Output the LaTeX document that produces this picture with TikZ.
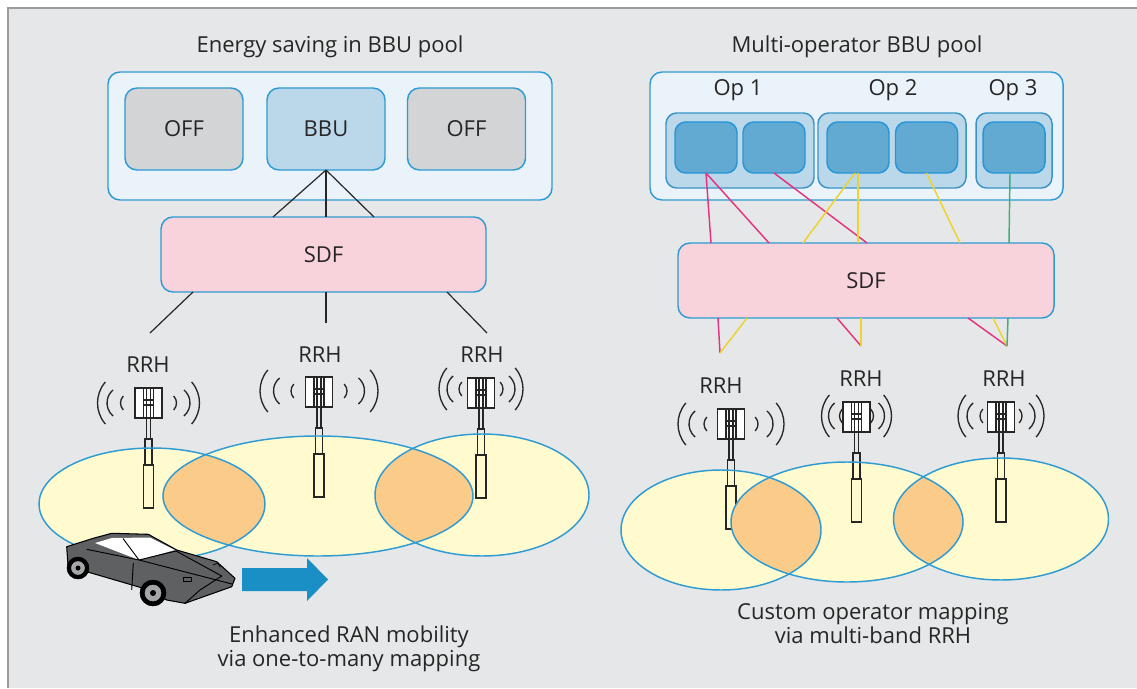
\documentclass[tikz,border=0pt]{standalone}
\usepackage{fontspec}
\setmainfont{Open Sans}
\usetikzlibrary{calc}

\definecolor{bg}{HTML}{E6E7E8}
\definecolor{framegray}{HTML}{9B9B9B}
\definecolor{ink}{HTML}{262626}
\definecolor{edgeblue}{HTML}{2E9BD3}
\definecolor{poolfill}{HTML}{EAF2FA}
\definecolor{offfill}{HTML}{D3D4D6}
\definecolor{bbufill}{HTML}{BBD7EA}
\definecolor{sdffill}{HTML}{F9D3DB}
\definecolor{groupfill}{HTML}{BBD7EA}
\definecolor{groupedge}{HTML}{3A93C6}
\definecolor{unitfill}{HTML}{63AAD3}
\definecolor{unitedge}{HTML}{2596D6}
\definecolor{cellfill}{HTML}{FFFBCF}
\definecolor{lensfill}{HTML}{FBCB8A}
\definecolor{pinkline}{HTML}{E5347E}
\definecolor{yellowline}{HTML}{EFD22B}
\definecolor{greenline}{HTML}{3CB371}
\definecolor{arrowblue}{HTML}{1A8FC5}
\definecolor{carbody}{HTML}{5F6062}
\definecolor{hubgray}{HTML}{A5A6A8}

\tikzset{
  rbox/.style={draw=edgeblue, line width=1.1pt, rounded corners=9pt,
    inner sep=0pt, outer sep=0pt, text=ink},
  poolbox/.style={rbox, fill=poolfill},
  offbox/.style={rbox, fill=offfill},
  bbubox/.style={rbox, fill=bbufill},
  sdfbox/.style={rbox, fill=sdffill},
  opgroup/.style={rbox, draw=groupedge, fill=groupfill, rounded corners=8pt},
  opunit/.style={rbox, draw=unitedge, fill=unitfill, rounded corners=8pt,
    minimum width={62*0.75pt}, minimum height={51*0.75pt}},
  lbl/.style={anchor=base, text=ink, inner sep=0pt},
  link/.style={draw=ink, line width=0.9pt},
  pinkl/.style={draw=pinkline, line width=1.1pt},
  yell/.style={draw=yellowline, line width=1.1pt},
  greenl/.style={draw=greenline, line width=1.1pt},
  cell/.style={fill=cellfill},
  celledge/.style={draw=edgeblue, line width=1.1pt},
  lens/.style={fill=lensfill},
  twr/.style={draw=ink, line width=0.8pt},
  wave/.style={draw=ink, line width=1pt},
}

% antenna mast: panels on top, pole and two tube sections below
\newcommand\tower[2]{%
  \begin{scope}[shift={(#1,#2)}]
    \draw[twr, fill=white] (-13.5,0) rectangle (13.5,30);
    \draw[twr] (-5,0) -- (-5,30) (5,0) -- (5,30);
    \draw[twr] (-2,0) -- (-2,30) (2,0) -- (2,30);
    \draw[twr] (-5,12) -- (5,12) (-5,17) -- (5,17);
    \draw[twr] (-2,30) -- (-2,51) (2,30) -- (2,51);
    \draw[twr] (-3.5,51) rectangle (3.5,77);
    \draw[twr] (-5,77) rectangle (5,120);
  \end{scope}}

% one pair of radio arcs: centre x, centre y, offset, radius, half angle
\newcommand\wavepair[5]{%
  \pgfmathsetmacro\wpl{-#3+#4}%
  \pgfmathsetmacro\wpr{#3-#4}%
  \draw[wave] ($(#1,#2)+(\wpl,0)+(180-#5:#4)$)
     arc[start angle=180-#5, end angle=180+#5, radius=#4];
  \draw[wave] ($(#1,#2)+(\wpr,0)+(#5:#4)$)
     arc[start angle=#5, end angle=-#5, radius=#4];}

% three pairs of radio arcs: centre x, centre y, outer offset, inner offset
\newcommand\radiowaves[4]{%
  \pgfmathsetmacro\rwmid{(#3+#4)/2+2}%
  \wavepair{#1}{#2}{#3}{32}{41}%
  \wavepair{#1}{#2}{\rwmid}{17}{50}%
  \wavepair{#1}{#2}{#4}{10}{44}}

\begin{document}
\begin{tikzpicture}[x=0.75pt, y=-0.75pt, font=\fontsize{16.5}{19}\selectfont]
\useasboundingbox (0,0) rectangle (1137,688);
\fill[white] (0,0) rectangle (1137,688);
\fill[bg] (8,8) rectangle (1137,688);
\draw[framegray, line width=1.5pt] (8,688) -- (8,8) -- (1137,8);

% ---------- energy saving in the BBU pool ----------
\node[lbl] (titleL) at (330,53) {Energy saving in BBU pool};
\node[poolbox, minimum width={444*0.75pt}, minimum height={128*0.75pt}] (poolL) at (330,136) {};
\node[offbox, minimum width={118*0.75pt}, minimum height={82*0.75pt}] (off1) at (184,129) {OFF};
\node[bbubox, minimum width={118*0.75pt}, minimum height={82*0.75pt}] (bbu) at (326,129) {BBU};
\node[offbox, minimum width={118*0.75pt}, minimum height={82*0.75pt}] (off2) at (466.5,129) {OFF};
\node[sdfbox, minimum width={325*0.75pt}, minimum height={75*0.75pt}] (sdfL) at (323.5,254.5) {SDF};

\draw[link] (bbu.south) -- ($(sdfL.north west)+(112,0)$);
\draw[link] (bbu.south) -- (bbu.south |- sdfL.north);
\draw[link] (bbu.south) -- ($(sdfL.north west)+(213,0)$);

\coordinate (feedL1) at (150,333);
\coordinate (feedL2) at (326,323);
\coordinate (feedL3) at (487,333);
\draw[link] ($(sdfL.south west)+(32,0)$) -- (feedL1);
\draw[link] (bbu.south |- sdfL.south) -- (feedL2);
\draw[link] ($(sdfL.south west)+(286,0)$) -- (feedL3);

% ---------- multi-operator BBU pool ----------
\node[lbl] (titleR) at (857,53) {Multi-operator BBU pool};
\node[poolbox, minimum width={413*0.75pt}, minimum height={128*0.75pt}] (poolR) at (856.5,136) {};
\node[lbl] (op1) at (738,96) {Op 1};
\node[lbl] (op2) at (893,96) {Op 2};
\node[lbl] (op3) at (1013,96) {Op 3};
\node[opgroup, minimum width={148*0.75pt}, minimum height={75*0.75pt}] (grp1) at (740,150.5) {};
\node[opgroup, minimum width={148*0.75pt}, minimum height={75*0.75pt}] (grp2) at (892,150.5) {};
\node[opgroup, minimum width={76*0.75pt}, minimum height={75*0.75pt}] (grp3) at (1014,150.5) {};
\node[opunit] (u1) at (706,147.5) {};
\node[opunit] (u2) at (774,147.5) {};
\node[opunit] (u3) at (858,147.5) {};
\node[opunit] (u4) at (926.5,147.5) {};
\node[opunit] (u5) at (1014,147.5) {};
\node[sdfbox, minimum width={376*0.75pt}, minimum height={75*0.75pt}] (sdfR) at (866,280.5) {SDF};

% operator links above the SDF
\draw[pinkl] (u1.south) -- ($(sdfR.north west)+(33,0)$);
\draw[pinkl] (u1.south) -- ($(sdfR.north west)+(91,0)$);
\draw[pinkl] (u2.south) -- ($(sdfR.north west)+(189,0)$);
\draw[yell] ($(u3.south)+(-3,0)$) -- ($(sdfR.north west)+(125,0)$);
\draw[yell] (u3.south) -- ($(sdfR.north west)+(180,0)$);
\draw[yell] (u4.south) -- ($(sdfR.north west)+(282,0)$);
\draw[greenl] ($(u5.south)+(-4,0)$) -- ($(u5.south |- sdfR.north)+(-5,0)$);

% operator links below the SDF
\coordinate (feedR1) at (720,353);
\coordinate (feedR2) at (861,346);
\coordinate (feedR3) at (1007,346);
\draw[pinkl] ($(sdfR.south west)+(40,0)$) -- (feedR1);
\draw[yell] ($(sdfR.south west)+(69,0)$) -- (feedR1);
\draw[pinkl] ($(sdfR.south west)+(159,0)$) -- (feedR2);
\draw[yell] ($(sdfR.south west)+(183,0)$) -- (feedR2);
\draw[pinkl] ($(sdfR.south west)+(290,0)$) -- (feedR3);
\draw[yell] ($(sdfR.south west)+(315,0)$) -- (feedR3);
\draw[greenl] ($(sdfR.south west)+(330,0)$) -- (feedR3);

% ---------- coverage cells ----------
\fill[cell] (152,504) ellipse[x radius=113, y radius=56];
\fill[cell] (318,496) ellipse[x radius=155, y radius=60];
\fill[cell] (482,495) ellipse[x radius=107, y radius=61];
\fill[cell] (721,530) ellipse[x radius=100, y radius=60];
\fill[cell] (847,522) ellipse[x radius=116, y radius=60];
\fill[cell] (1001,519) ellipse[x radius=107.5, y radius=61];

% masts
\tower{148.5}{388}
\tower{319}{377}
\tower{481}{378}
\tower{731}{409}
\tower{856.5}{402}
\tower{1001}{402}

% overlap zones
\begin{scope}
  \clip (152,504) ellipse[x radius=113, y radius=56];
  \fill[lens] (318,496) ellipse[x radius=155, y radius=60];
\end{scope}
\begin{scope}
  \clip (318,496) ellipse[x radius=155, y radius=60];
  \fill[lens] (482,495) ellipse[x radius=107, y radius=61];
\end{scope}
\begin{scope}
  \clip (721,530) ellipse[x radius=100, y radius=60];
  \fill[lens] (847,522) ellipse[x radius=116, y radius=60];
\end{scope}
\begin{scope}
  \clip (847,522) ellipse[x radius=116, y radius=60];
  \fill[lens] (1001,519) ellipse[x radius=107.5, y radius=61];
\end{scope}

\draw[celledge] (152,504) ellipse[x radius=113, y radius=56];
\draw[celledge] (318,496) ellipse[x radius=155, y radius=60];
\draw[celledge] (482,495) ellipse[x radius=107, y radius=61];
\draw[celledge] (721,530) ellipse[x radius=100, y radius=60];
\draw[celledge] (847,522) ellipse[x radius=116, y radius=60];
\draw[celledge] (1001,519) ellipse[x radius=107.5, y radius=61];

% radio arcs and labels
\radiowaves{148.5}{403}{51}{28}
\radiowaves{319}{391}{59}{28}
\radiowaves{481}{389}{42}{22}
\radiowaves{731}{424}{53}{27}
\radiowaves{856.5}{416}{35}{17}
\radiowaves{1001}{416}{43}{21}
\node[lbl] (rrhL1) at (148,372) {RRH};
\node[lbl] (rrhL2) at (320,362) {RRH};
\node[lbl] (rrhL3) at (482,362) {RRH};
\node[lbl] (rrhR1) at (721,393) {RRH};
\node[lbl] (rrhR2) at (861,386) {RRH};
\node[lbl] (rrhR3) at (1004,386) {RRH};

% ---------- car and direction arrow ----------
\filldraw[fill=carbody, draw=black, line width=0.8pt, line join=round]
  (66.7,546.7) -- (93.3,538.3) -- (111.7,533.3) -- (148.3,534.3) -- (176.7,550)
  -- (216.7,561.7) -- (235,578.3) -- (231.7,586.7) -- (185,603.3) -- (166.7,600)
  -- (140,587.3) -- (86.7,571.7) -- (68.3,570) -- cycle;
\fill[white] (95,543) -- (112,538) -- (150,537.5) -- (175,550) -- (139,560) -- cycle;
\draw[black, line width=0.7pt] (123,538.5) -- (139,560);
\draw[black, line width=0.7pt] (86.7,549.3) -- (139,560) -- (176,551);
\draw[black, line width=0.7pt] (133.3,563) -- (131.7,590);
\draw[black, line width=0.7pt] (139,560) -- (232,584);
\draw[black, line width=0.7pt] (176,551) -- (221.7,576) -- (200,590) -- (185,603.3);
\draw[black, line width=0.6pt] (183,577) rectangle (191,581);
\draw[black, line width=0.6pt] (213,565) -- (218,563) -- (220,567);
\filldraw[fill=black, draw=black] (78,568) circle[radius=11];
\filldraw[fill=hubgray, draw=hubgray] (78,568) circle[radius=6.5];
\fill[black] (78,568) circle[radius=2.5];
\filldraw[fill=black, draw=black] (153,593) circle[radius=13];
\filldraw[fill=hubgray, draw=hubgray] (153,593) circle[radius=8];
\fill[black] (153,593) circle[radius=3];

\fill[arrowblue] (242,568) -- (307,568) -- (307,558) -- (328,579.5) -- (307,601)
  -- (307,591) -- (242,591) -- cycle;

% ---------- captions ----------
\node[lbl] (capL1) at (349,642) {Enhanced RAN mobility};
\node[lbl] (capL2) at (349,666) {via one-to-many mapping};
\node[lbl] (capR1) at (873,619) {Custom operator mapping};
\node[lbl] (capR2) at (873,643) {via multi-band RRH};
\end{tikzpicture}
\end{document}
